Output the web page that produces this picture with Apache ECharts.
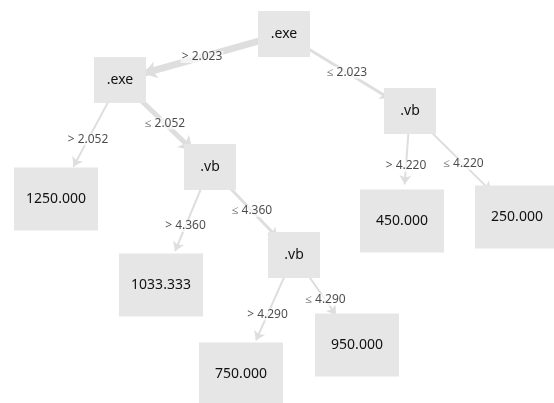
<!DOCTYPE html>
<html>
<head>
<meta charset="utf-8">
<script src="https://cdn.jsdelivr.net/npm/echarts@6/dist/echarts.min.js"></script>
<style>
  html, body { margin: 0; padding: 0; background: #fff; }
  #chart-container { width: 554px; height: 403px; }
</style>
</head>
<body>
<div id="chart-container"></div>
<script>
// tree nodes (position in picture units)
const nodeNames = ['root', 'exeL', 'vbR', 'leaf1250', 'vbM', 'leaf450', 'leaf250', 'leaf1033', 'vbB', 'leaf750', 'leaf950'];
const nodeLabels = ['.exe', '.exe', '.vb', '1250.000', '.vb', '450.000', '250.000', '1033.333', '.vb', '750.000', '950.000'];
const nodeX = [284, 120, 410, 56, 210, 402, 517, 161, 294, 241, 357];
const nodeY = [34, 80, 111, 199, 167, 221, 217, 285, 255, 374, 345];
const isLeaf = [false, false, false, true, false, true, true, true, false, true, true];

// splits
const edgeFrom = ['root', 'root', 'exeL', 'exeL', 'vbR', 'vbR', 'vbM', 'vbM', 'vbB', 'vbB'];
const edgeTo = ['exeL', 'vbR', 'leaf1250', 'vbM', 'leaf450', 'leaf250', 'leaf1033', 'vbB', 'leaf750', 'leaf950'];
const edgeLabels = ['> 2.023', '≤ 2.023', '> 2.052', '≤ 2.052', '> 4.220', '≤ 4.220', '> 4.360', '≤ 4.360', '> 4.290', '≤ 4.290'];
const edgeWeight = [7, 3, 2, 5, 2, 2, 2, 3, 2, 2];

const myChart = echarts.init(document.getElementById('chart-container'));

const nodes = nodeNames.map((n, i) => ({
  name: n,
  value: [nodeX[i], nodeY[i]],
  symbolSize: isLeaf[i] ? [84, 63] : [52, 46],
  label: { formatter: nodeLabels[i] }
}));

const links = edgeFrom.map((s, i) => ({
  source: s,
  target: edgeTo[i],
  lineStyle: { width: edgeWeight[i] },
  symbolSize: edgeWeight[i] > 4 ? 13 : 9
}));

// edge labels sit at the middle of each edge, kept horizontal
const edgeMid = edgeFrom.map((s, i) => {
  const a = nodeNames.indexOf(s);
  const b = nodeNames.indexOf(edgeTo[i]);
  return {
    value: [(nodeX[a] + nodeX[b]) / 2, (nodeY[a] + nodeY[b]) / 2],
    label: { formatter: edgeLabels[i] }
  };
});

myChart.setOption({
  animation: false,
  grid: { left: 0, right: 0, top: 0, bottom: 0 },
  xAxis: { type: 'value', min: 0, max: 554, show: false },
  yAxis: { type: 'value', min: 0, max: 403, inverse: true, show: false },
  series: [
    {
      type: 'graph',
      coordinateSystem: 'cartesian2d',
      symbol: 'rect',
      itemStyle: { color: '#e6e6e6' },
      label: {
        show: true,
        position: 'inside',
        color: '#111',
        fontFamily: 'Noto Sans',
        fontSize: 14
      },
      edgeSymbol: ['none', 'arrow'],
      edgeSymbolSize: 9,
      lineStyle: { color: '#dedede', opacity: 1, curveness: 0 },
      data: nodes,
      links: links,
      z: 1
    },
    {
      type: 'scatter',
      symbolSize: 0,
      silent: true,
      z: 5,
      label: {
        show: true,
        position: 'inside',
        color: '#1e1e1e',
        fontFamily: 'Noto Sans',
        fontSize: 12,
        backgroundColor: 'rgba(255,255,255,0.8)',
        padding: [0, 1]
      },
      data: edgeMid
    }
  ]
});
</script>
</body>
</html>
